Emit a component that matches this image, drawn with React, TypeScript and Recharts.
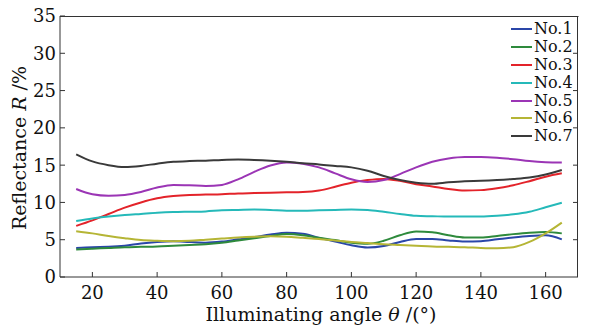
import { LineChart, Line, XAxis, YAxis } from 'recharts'

const angles = [15, 20, 25, 30, 35, 40, 45, 50, 55, 60, 65, 70, 75, 80, 85, 90, 95, 100, 105, 110, 115, 120, 125, 130, 135, 140, 145, 150, 155, 160, 165]

const no1 = [3.9, 4.0, 4.05, 4.2, 4.5, 4.7, 4.8, 4.7, 4.6, 4.75, 5.05, 5.35, 5.7, 5.95, 5.8, 5.25, 4.75, 4.25, 3.95, 4.15, 4.7, 5.1, 5.1, 4.9, 4.75, 4.8, 5.05, 5.3, 5.5, 5.6, 5.05]
const no2 = [3.7, 3.8, 3.9, 4.0, 4.05, 4.1, 4.2, 4.3, 4.4, 4.6, 4.9, 5.2, 5.5, 5.75, 5.6, 5.25, 4.95, 4.6, 4.45, 4.85, 5.6, 6.1, 6.0, 5.6, 5.3, 5.3, 5.5, 5.75, 5.95, 6.05, 5.85]
const no3 = [6.85, 7.6, 8.45, 9.3, 10.0, 10.55, 10.85, 11.0, 11.05, 11.1, 11.2, 11.25, 11.3, 11.35, 11.4, 11.6, 12.1, 12.65, 13.0, 13.15, 12.9, 12.45, 12.15, 11.8, 11.6, 11.65, 11.9, 12.3, 12.85, 13.45, 13.9]
const no4 = [7.5, 7.85, 8.1, 8.3, 8.45, 8.6, 8.7, 8.75, 8.8, 8.95, 9.0, 9.05, 9.0, 8.9, 8.9, 8.95, 9.0, 9.05, 9.0, 8.75, 8.45, 8.2, 8.15, 8.1, 8.1, 8.1, 8.2, 8.4, 8.75, 9.35, 9.95]
const no5 = [11.8, 11.1, 10.9, 11.0, 11.4, 12.0, 12.35, 12.3, 12.2, 12.35, 13.1, 14.1, 14.95, 15.35, 15.2, 14.7, 13.9, 13.1, 12.75, 13.0, 13.8, 14.7, 15.45, 15.9, 16.1, 16.1, 16.0, 15.8, 15.55, 15.4, 15.35]
const no6 = [6.15, 5.85, 5.5, 5.2, 4.95, 4.85, 4.8, 4.85, 5.0, 5.15, 5.3, 5.4, 5.45, 5.4, 5.25, 5.1, 4.9, 4.7, 4.55, 4.4, 4.3, 4.2, 4.1, 4.05, 4.0, 3.9, 3.85, 4.0, 4.7, 5.85, 7.3]
const no7 = [16.45, 15.5, 15.0, 14.75, 14.9, 15.2, 15.45, 15.55, 15.6, 15.7, 15.75, 15.7, 15.6, 15.45, 15.25, 15.1, 14.9, 14.7, 14.25, 13.55, 13.0, 12.65, 12.5, 12.7, 12.85, 12.9, 13.0, 13.15, 13.35, 13.75, 14.35]

const xTicks = [20, 40, 60, 80, 100, 120, 140, 160]
const yTicks = [0, 5, 10, 15, 20, 25, 30, 35]
const xDomain = [10, 170]
const yDomain = [0, 35]

const series = [
  { key: 'No.1', values: no1, color: '#2a46a8' },
  { key: 'No.2', values: no2, color: '#2e8a3c' },
  { key: 'No.3', values: no3, color: '#e3232a' },
  { key: 'No.4', values: no4, color: '#25b9b9' },
  { key: 'No.5', values: no5, color: '#9b35b5' },
  { key: 'No.6', values: no6, color: '#b5b535' },
  { key: 'No.7', values: no7, color: '#3a3a3a' },
]

const data = angles.map((angle, i) => {
  const row: Record<string, number> = { angle }
  series.forEach((s) => {
    row[s.key] = s.values[i]
  })
  return row
})

const W = 589
const H = 330
const margin = { top: 16, right: 11, left: 0, bottom: 0 }
const yAxisWidth = 60
const xAxisHeight = 53
const plotLeft = margin.left + yAxisWidth
const plotRight = W - margin.right
const plotTop = margin.top
const plotBottom = H - xAxisHeight - margin.bottom

const font = '"DejaVu Serif", serif'
const axisColor = '#333'

const XLabel = () => (
  <text x={321} y={321} textAnchor='middle' fontFamily={font} fontSize={19} fill='#111'>
    Illuminating angle <tspan fontStyle='italic'>θ</tspan> /(°)
  </text>
)

const YLabel = () => (
  <text
    x={26}
    y={148}
    transform='rotate(-90, 26, 148)'
    textAnchor='middle'
    fontFamily={font}
    fontSize={19}
    fill='#111'
  >
    Reflectance <tspan fontStyle='italic'>R</tspan> /%
  </text>
)

// y tick label; also draws the matching inward tick on the right edge,
// the top edge (at the highest tick) and the right edge (at the lowest one)
const YTick = (props: any) => {
  const { x, y, payload } = props
  const v = payload.value
  return (
    <g>
      <text x={x} y={y} dy='0.36em' textAnchor='end' fontFamily={font} fontSize={18} fill='#111'>
        {v}
      </text>
      {v !== yTicks[0] && v !== yTicks[yTicks.length - 1] && (
        <line x1={plotRight - 5} x2={plotRight} y1={y} y2={y} stroke={axisColor} />
      )}
      {v === yTicks[yTicks.length - 1] && (
        <line x1={plotLeft} x2={plotRight + 0.5} y1={y + 0.5} y2={y + 0.5} stroke={axisColor} />
      )}
      {v === yTicks[0] && (
        <line x1={plotRight - 0.5} x2={plotRight - 0.5} y1={plotTop} y2={y} stroke={axisColor} />
      )}
    </g>
  )
}

// legend drawn outside the chart so it doesn't shrink the plot area
const LegendBox = () => (
  <div
    style={{
      position: 'absolute',
      left: 511,
      top: 20,
      fontFamily: font,
      fontSize: 16,
      color: '#111',
      zIndex: 6,
    }}
  >
    {series.map((s) => (
      <div key={s.key} style={{ display: 'flex', alignItems: 'center', height: 17.9 }}>
        <svg width={22} height={4} style={{ marginRight: 1 }}>
          <line x1={0} y1={2} x2={21} y2={2} stroke={s.color} strokeWidth={2} />
        </svg>
        <span style={{ lineHeight: '17.9px' }}>{s.key}</span>
      </div>
    ))}
  </div>
)

export default function App() {
  return (
    <div style={{ position: 'absolute', left: 0, top: 0, width: W, height: H, background: '#fff' }}>
      <LineChart width={W} height={H} data={data} margin={margin}>
        <XAxis
          dataKey='angle'
          type='number'
          domain={xDomain}
          ticks={xTicks}
          height={xAxisHeight}
          tickSize={-5}
          tickMargin={14}
          stroke={axisColor}
          tick={{ fill: '#111', fontFamily: font, fontSize: 18 }}
          label={<XLabel />}
        />
        <YAxis
          type='number'
          domain={yDomain}
          ticks={yTicks}
          width={yAxisWidth}
          tickSize={-5}
          tickMargin={9}
          stroke={axisColor}
          tick={<YTick />}
          label={<YLabel />}
        />
        {series.map((s) => (
          <Line
            key={s.key}
            type='monotone'
            dataKey={s.key}
            stroke={s.color}
            strokeWidth={2}
            dot={false}
            isAnimationActive={false}
          />
        ))}
      </LineChart>
      <LegendBox />
    </div>
  )
}
